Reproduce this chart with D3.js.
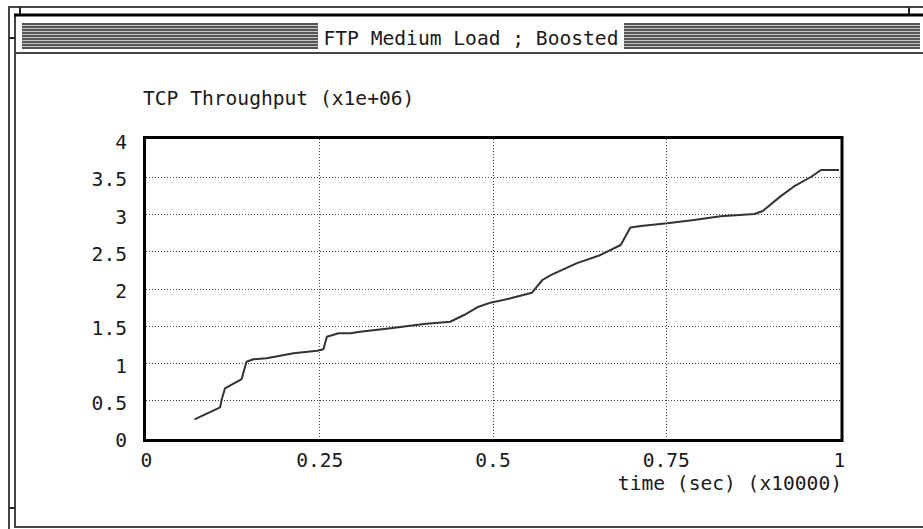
<!DOCTYPE html>
<html>
<head>
<meta charset="utf-8">
<script src="https://cdn.jsdelivr.net/npm/d3@7/dist/d3.min.js"></script>
<style>
  html, body { margin: 0; padding: 0; background: #fff; }
  svg { display: block; }
  text { font-family: "DejaVu Sans Mono", "Liberation Mono", monospace; font-size: 19.6px; fill: #1a1a1a; }
</style>
</head>
<body>
<svg id="chart" width="923" height="529"></svg>
<script>
// ---- data ----
const chartTitle = "FTP Medium Load ; Boosted";
const yTitle = "TCP Throughput (x1e+06)";
const xTitle = "time (sec) (x10000)";

const timeValues = [0.070, 0.107, 0.109, 0.114, 0.138, 0.145, 0.155, 0.174, 0.213, 0.247, 0.256, 0.261,
  0.278, 0.295, 0.309, 0.353, 0.401, 0.439, 0.459, 0.478, 0.497, 0.526, 0.557, 0.572, 0.584, 0.622,
  0.656, 0.685, 0.699, 0.714, 0.752, 0.791, 0.829, 0.878, 0.890, 0.916, 0.935, 0.960, 0.974, 1.000];
const throughputValues = [0.244, 0.405, 0.503, 0.660, 0.785, 1.017, 1.050, 1.063, 1.130, 1.165, 1.184, 1.353,
  1.400, 1.400, 1.420, 1.466, 1.523, 1.554, 1.644, 1.748, 1.810, 1.868, 1.944, 2.114, 2.180, 2.340,
  2.450, 2.584, 2.820, 2.840, 2.875, 2.920, 2.970, 3.000, 3.040, 3.240, 3.370, 3.500, 3.590, 3.590];

const xTickValues = [0, 0.25, 0.5, 0.75, 1];
const xTickLabels = ["0", "0.25", "0.5", "0.75", "1"];
const yTickValues = [0, 0.5, 1, 1.5, 2, 2.5, 3, 3.5, 4];
const yTickLabels = ["0", "0.5", "1", "1.5", "2", "2.5", "3", "3.5", "4"];

// ---- drawing ----
const svg = d3.select("#chart");
const W = 923, H = 529;

// window frame
const frame = svg.append("g");
frame.append("line").attr("x1", 9).attr("x2", W).attr("y1", 7).attr("y2", 7)
  .attr("stroke", "#444").attr("stroke-width", 2);
frame.append("line").attr("x1", 9).attr("x2", 9).attr("y1", 6).attr("y2", H)
  .attr("stroke", "#444").attr("stroke-width", 2);
frame.append("line").attr("x1", 15).attr("x2", 15).attr("y1", 14).attr("y2", 528)
  .attr("stroke", "#444").attr("stroke-width", 2);
frame.append("line").attr("x1", 14).attr("x2", W).attr("y1", 527).attr("y2", 527)
  .attr("stroke", "#444").attr("stroke-width", 2);
// small ticks
[20, 909].forEach(x => frame.append("line").attr("x1", x).attr("x2", x).attr("y1", 7).attr("y2", 15)
  .attr("stroke", "#222").attr("stroke-width", 2));
[38, 508].forEach(y => frame.append("line").attr("x1", 9).attr("x2", 15).attr("y1", y).attr("y2", y)
  .attr("stroke", "#222").attr("stroke-width", 2));

// title bar
frame.append("line").attr("x1", 14).attr("x2", W).attr("y1", 15).attr("y2", 15)
  .attr("stroke", "#000").attr("stroke-width", 3);
frame.append("line").attr("x1", 15).attr("x2", W).attr("y1", 53).attr("y2", 53)
  .attr("stroke", "#444").attr("stroke-width", 2);
frame.append("rect").attr("x", 22).attr("y", 23).attr("width", 898).attr("height", 26).attr("fill", "#c4c4c4");
d3.range(9).forEach(i => frame.append("line").attr("x1", 22).attr("x2", 920)
  .attr("y1", 24 + i * 3).attr("y2", 24 + i * 3).attr("stroke", "#555").attr("stroke-width", 2));
frame.append("rect").attr("x", 318).attr("y", 22).attr("width", 306).attr("height", 28).attr("fill", "#fff");
frame.append("text").attr("x", 471).attr("y", 45).attr("text-anchor", "middle").text(chartTitle);

// scales
const x = d3.scaleLinear().domain([0, 1]).range([146, 839]);
const y = d3.scaleLinear().domain([0, 4]).range([437.5, 139.5]);

// grid
const grid = svg.append("g").attr("stroke", "#444").attr("stroke-width", 1).attr("stroke-dasharray", "1,2");
yTickValues.slice(1, -1).forEach(v => grid.append("line")
  .attr("x1", 146).attr("x2", 841).attr("y1", Math.round(y(v)) + 0.5).attr("y2", Math.round(y(v)) + 0.5));
xTickValues.slice(1, -1).forEach(v => grid.append("line")
  .attr("x1", Math.round(x(v)) + 0.5).attr("x2", Math.round(x(v)) + 0.5).attr("y1", 139).attr("y2", 440));

// line
const line = d3.line().x((d, i) => x(timeValues[i])).y(d => y(d));
svg.append("path").datum(throughputValues)
  .attr("d", line).attr("fill", "none").attr("stroke", "#333").attr("stroke-width", 2)
  .attr("stroke-linejoin", "round");

// plot frame
svg.append("rect").attr("x", 144.5).attr("y", 137.5).attr("width", 697.5).attr("height", 303)
  .attr("fill", "none").attr("stroke", "#000").attr("stroke-width", 3);

// axes (labels only)
const xAxis = d3.axisBottom(x).tickValues(xTickValues)
  .tickFormat((d, i) => xTickLabels[i]).tickSize(0).tickPadding(0);
const gx = svg.append("g").attr("transform", "translate(0,467)").call(xAxis);
gx.select(".domain").remove();
gx.selectAll("text").attr("dy", null).attr("y", 0).attr("fill", "#1a1a1a")
  .style("font-family", '"DejaVu Sans Mono", monospace').style("font-size", "19.6px");

const yAxis = d3.axisLeft(y).tickValues(yTickValues)
  .tickFormat((d, i) => yTickLabels[i]).tickSize(0).tickPadding(0);
const gy = svg.append("g").attr("transform", "translate(127,0)").call(yAxis);
gy.select(".domain").remove();
gy.selectAll("text").attr("dy", "9px").attr("x", 0).attr("fill", "#1a1a1a")
  .style("font-family", '"DejaVu Sans Mono", monospace').style("font-size", "19.6px");

// titles
svg.append("text").attr("x", 143).attr("y", 105).text(yTitle);
svg.append("text").attr("x", 842).attr("y", 490).attr("text-anchor", "end").text(xTitle);
</script>
</body>
</html>
